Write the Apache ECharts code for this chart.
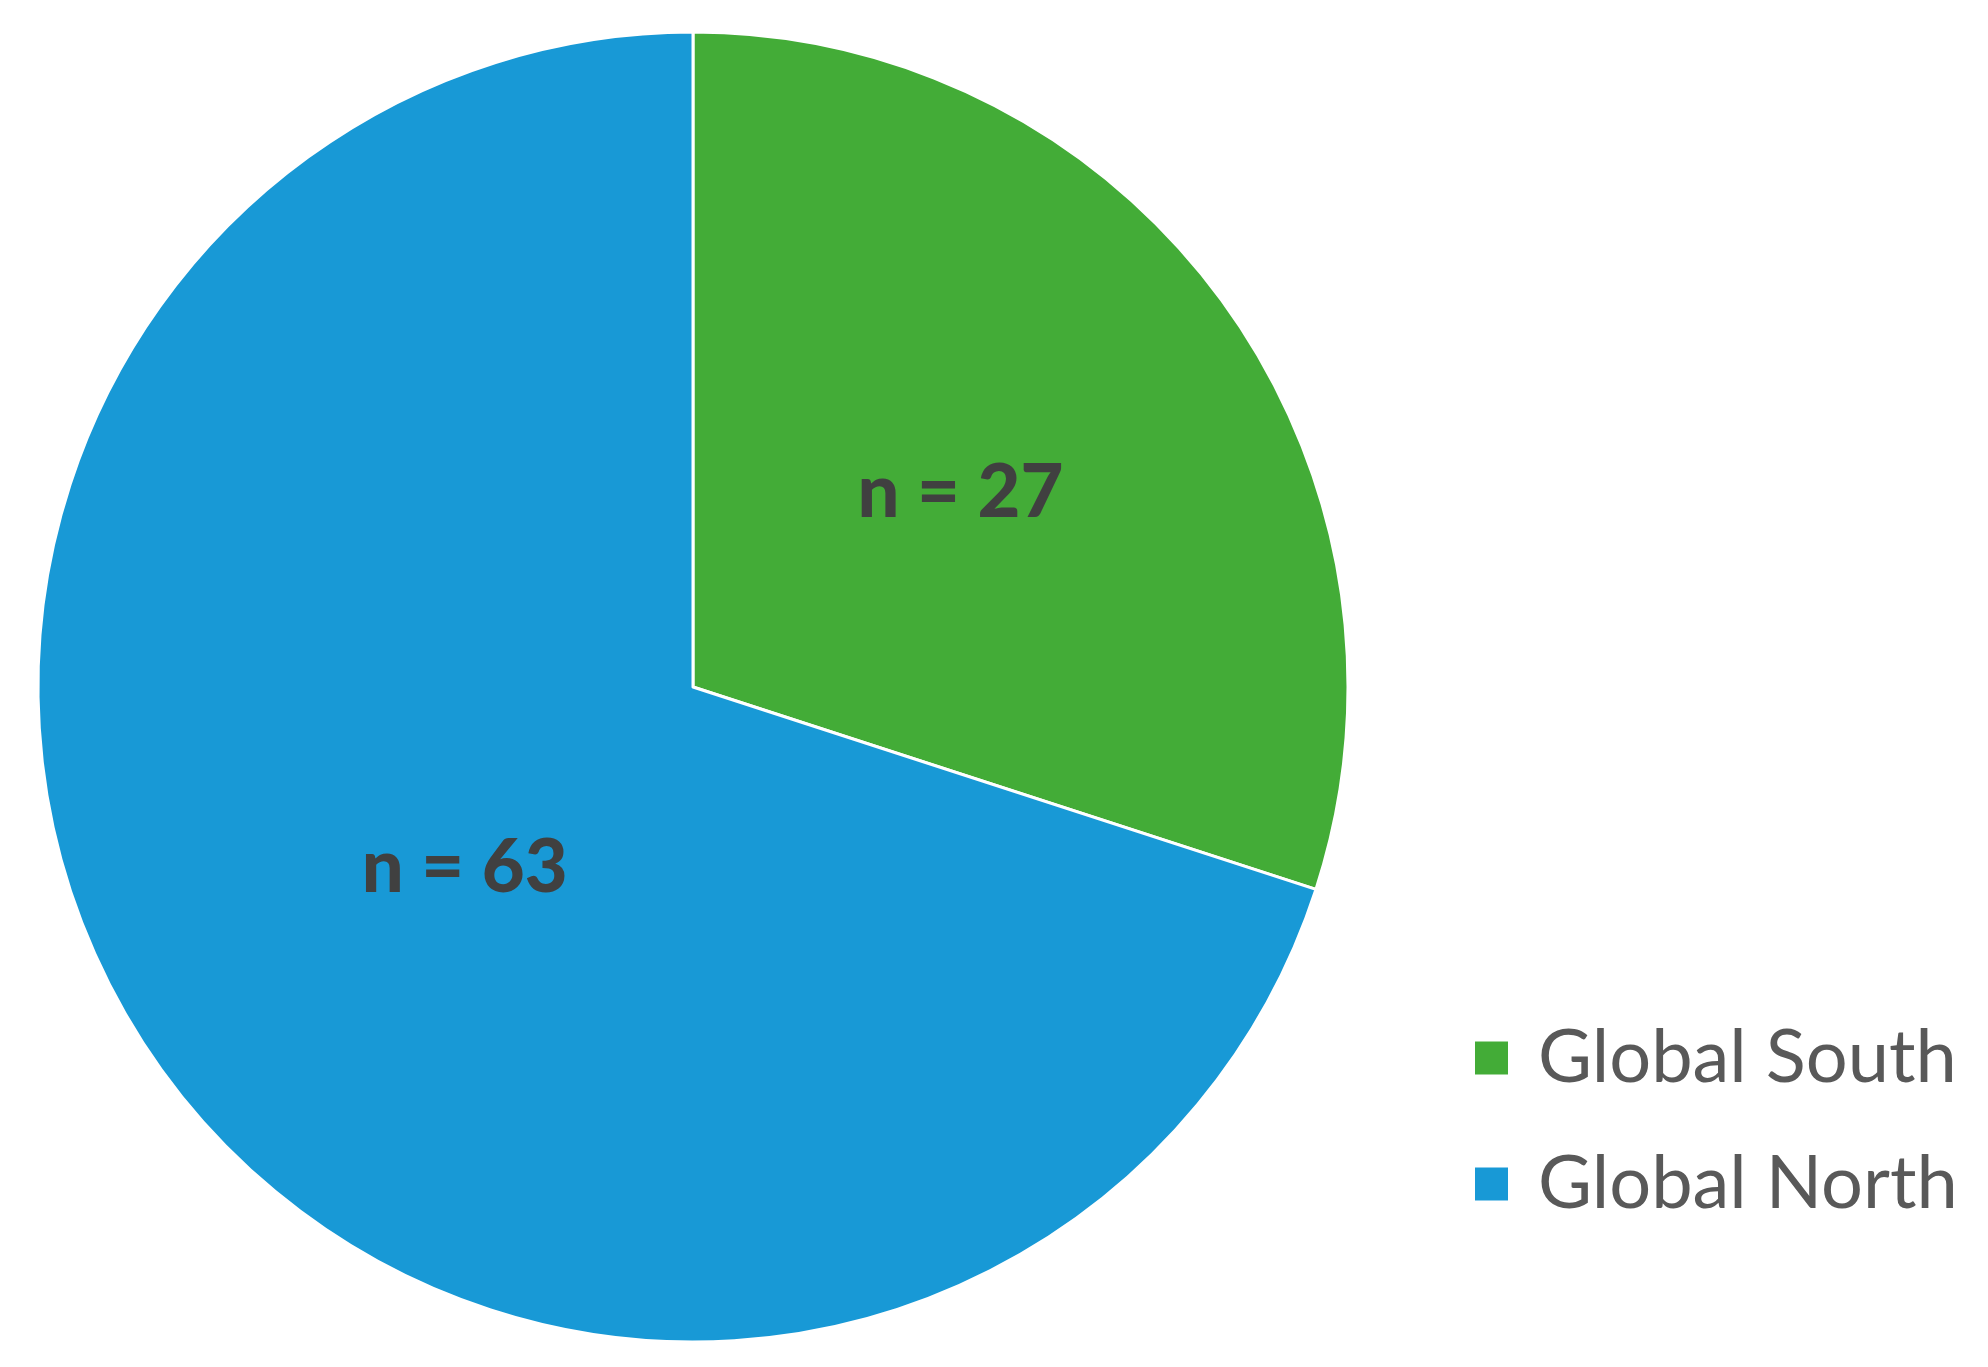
<!DOCTYPE html>
<html>
<head>
<meta charset="utf-8">
<script src="https://cdn.jsdelivr.net/npm/echarts@6/dist/echarts.min.js"></script>
<style>
html,body{margin:0;padding:0;background:#fff;}
#chart{width:1988px;height:1367px;}
</style>
</head>
<body>
<div id="chart"></div>
<script>
const categories = ['Global South', 'Global North'];
const values = [27, 63];
const labels = ['n = 27', 'n = 63'];
const colors = ['#43AC37', '#1899D6'];

const chart = echarts.init(document.getElementById('chart'), null, {renderer: 'canvas'});
chart.setOption({
  backgroundColor: '#ffffff',
  animation: false,
  legend: {
    orient: 'vertical',
    left: 1468,
    top: 1016,
    icon: 'rect',
    itemWidth: 35,
    itemHeight: 35,
    itemGap: 52,
    data: categories,
    textStyle: {
      fontFamily: 'Lato',
      fontSize: 74,
      color: '#595959',
      padding: [0, 0, 0, 24]
    }
  },
  series: [{
    type: 'pie',
    center: [693, 687],
    radius: [0, 655],
    startAngle: 90,
    clockwise: true,
    label: {
      show: true,
      position: 'inside',
      fontFamily: 'Lato',
      fontWeight: 900,
      fontSize: 74,
      color: '#404040',
      formatter: p => labels[p.dataIndex]
    },
    labelLine: {show: false},
    labelLayout: function (p) {
      return p.dataIndex === 1 ? {dx: 39, dy: -13} : {};
    },
    itemStyle: {borderColor: '#ffffff', borderWidth: 3},
    emphasis: {disabled: true},
    data: categories.map((c, i) => ({
      name: c,
      value: values[i],
      itemStyle: {color: colors[i]}
    }))
  }]
});
</script>
</body>
</html>
